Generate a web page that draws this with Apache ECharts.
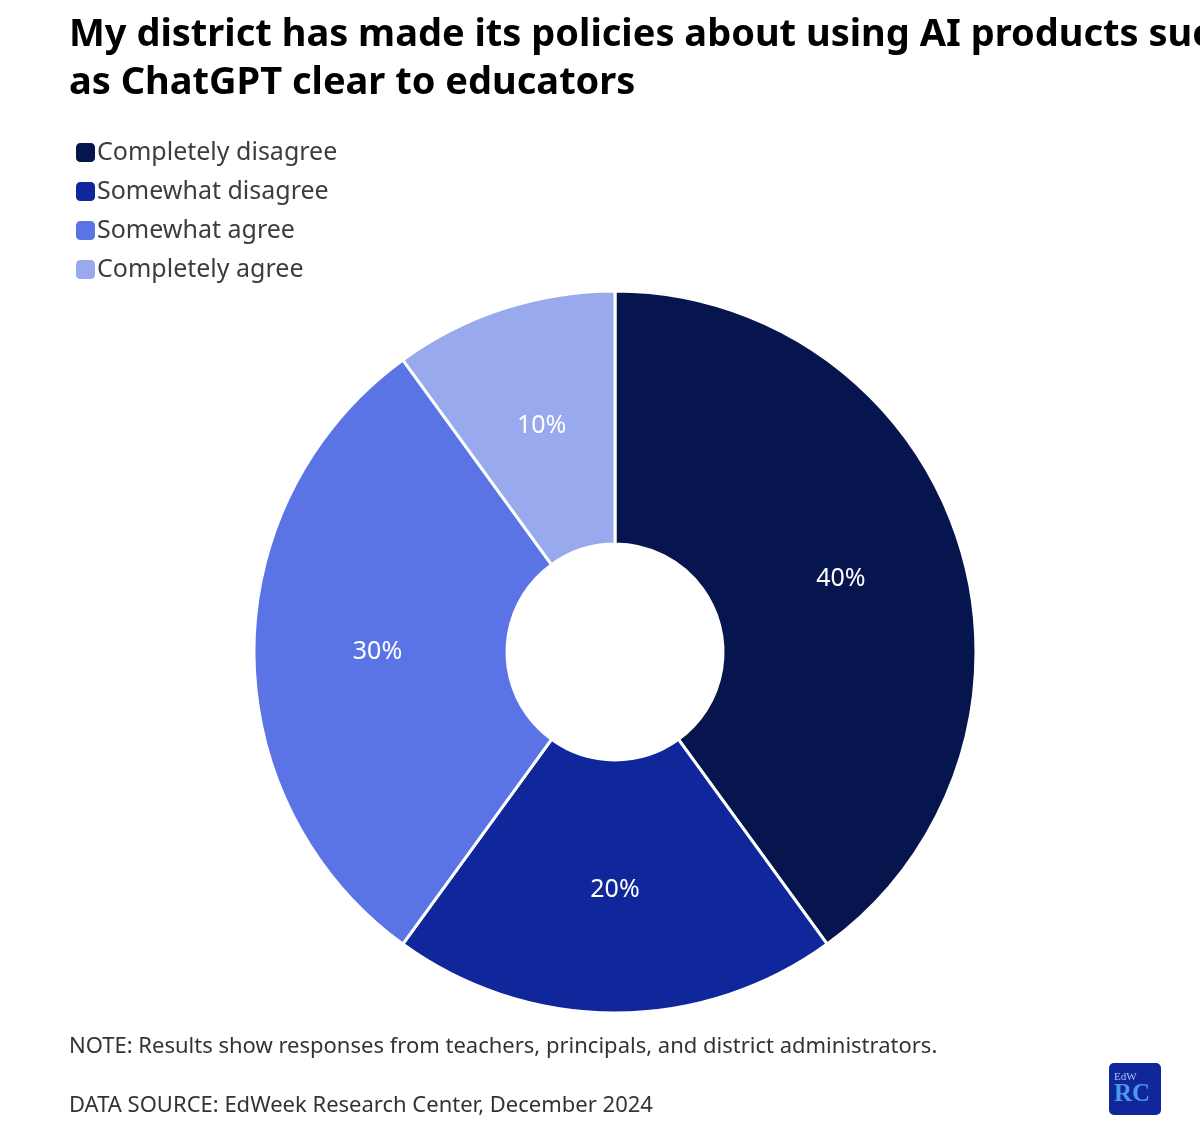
<!DOCTYPE html>
<html><head><meta charset="utf-8">
<style>html,body{margin:0;padding:0;background:#fff}#c{width:1200px;height:1142px}</style>
<script src="https://cdn.jsdelivr.net/npm/echarts@6/dist/echarts.min.js"></script>
</head><body><div id="c"></div>
<script>
const categories=["Completely disagree","Somewhat disagree","Somewhat agree","Completely agree"];
const values=[40,20,30,10];
const colors=["#07154f","#10279c","#5a74e6","#98a9ee"];
const titleLines=["My district has made its policies about using AI products such","as ChatGPT clear to educators"];
const note="NOTE: Results show responses from teachers, principals, and district administrators.";
const source="DATA SOURCE: EdWeek Research Center, December 2024";
const font='"Source Sans Pro","Noto Sans","Open Sans",sans-serif';
const chart=echarts.init(document.getElementById('c'));
const txt=(x,y,t,size,color,weight)=>({type:'text',left:x,top:y,style:{text:t,font:(weight||400)+' '+size+'px '+font,fill:color}});
chart.setOption({
 animation:false,
 legend:{orient:'vertical',left:69,top:135,itemWidth:21,itemHeight:21,itemGap:14,icon:'roundRect',
  data:categories,textStyle:{fontFamily:font,fontSize:25,color:'#3d3d3d',padding:[0,0,0,-4]},selectedMode:false},
 series:[{type:'pie',center:[615,652],radius:[108,361],startAngle:90,clockwise:true,
  label:{show:true,position:'inside',formatter:'{c}%',color:'#fff',fontFamily:font,fontSize:25},
  labelLine:{show:false},
  itemStyle:{borderColor:'#fff',borderWidth:3},
  emphasis:{disabled:true},
  data:categories.map((n,i)=>({name:n,value:values[i],itemStyle:{color:colors[i]}}))}],
 graphic:[
  txt(69,16,titleLines[0],38,'#000',700),
  txt(69,64,titleLines[1],38,'#000',700),
  txt(69,1036,note,22,'#333'),
  txt(69,1095,source,22,'#333'),
  {type:'rect',shape:{x:1109,y:1063,width:52,height:52,r:5},style:{fill:'#10279c'}},
  {type:'text',left:1114,top:1072,style:{text:'EdW',font:'400 11px "Liberation Serif",serif',fill:'#a9c4f5'}},
  {type:'text',left:1114,top:1082,style:{text:'RC',font:'700 25px "Liberation Serif",serif',fill:'#4a9be8'}}
 ]
});
</script></body></html>
